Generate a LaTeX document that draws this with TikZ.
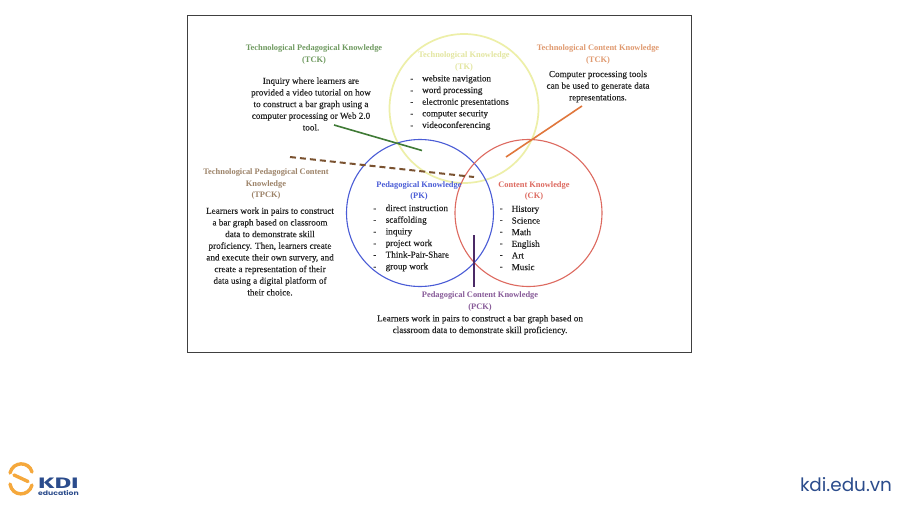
\documentclass[tikz,border=0pt]{standalone}
\usepackage{fontspec}
\setmainfont{Liberation Serif}[FakeBold=0.25]
\newfontfamily\ttlfont{Liberation Serif}[BoldFont={Liberation Serif Bold}]
\newfontfamily\logofont{Poppins}
\newfontfamily\kdifont{Fira Sans}
\newfontfamily\urlfont{Poppins}
\definecolor{tkyellow}{HTML}{EDEFA8}
\definecolor{tktext}{HTML}{E3E6A0}
\definecolor{pkblue}{HTML}{4A5CD6}
\definecolor{ckred}{HTML}{DD6A60}
\definecolor{tpkgreen}{HTML}{6F9A60}
\definecolor{tpkline}{HTML}{3F7A35}
\definecolor{tckorange}{HTML}{E09A70}
\definecolor{tckline}{HTML}{E0773C}
\definecolor{tpckbrown}{HTML}{9C8268}
\definecolor{tpckline}{HTML}{7A5230}
\definecolor{pckpurple}{HTML}{875A98}
\definecolor{pckline}{HTML}{4B2A66}
\definecolor{bodyink}{HTML}{262626}
\definecolor{kdiblue}{HTML}{2B4C8C}
\definecolor{kdiorange}{HTML}{F5A83C}
\tikzset{
  x=1pt,y=-1pt,
  ttl/.style={inner sep=0pt,align=center,font=\ttlfont\bfseries\fontsize{8.4}{11.65}\selectfont},
  bodytxt/.style={inner sep=0pt,align=center,font=\fontsize{9.15}{11.65}\selectfont,text=bodyink},
  listtxt/.style={bodytxt,align=left,anchor=west},
  venn/.style={circle,draw,inner sep=0pt,minimum size=147pt,line width=1.1pt},
  link/.style={line width=1.6pt},
}
\begin{document}
\begin{tikzpicture}
\useasboundingbox (0,0) rectangle (900,506);
\fill[white] (0,0) rectangle (900,506);
\node[draw=black!75,line width=0.8pt,inner sep=0pt,minimum width=504pt,minimum height=337pt] (frame) at (439,183.5) {};

% circles
\node[venn,draw=tkyellow,line width=1.7pt,minimum size=149pt] (tk) at (464,108.5) {};
\node[venn,draw=pkblue] (pk) at (420,213) {};
\node[venn,draw=ckred] (ck) at (528.5,213) {};

% connector ends
\coordinate (tpkA) at (334,125);
\coordinate (tpkB) at (422,150.5);
\coordinate (tckA) at (582,106);
\coordinate (tckB) at (506,157);
\coordinate (tpckA) at (290,157);
\coordinate (tpckB) at (474,177);
\coordinate (pckA) at (473.7,235);
\coordinate (pckB) at (473.7,287);
\draw[link,tpkline] (tpkA) -- (tpkB);
\draw[link,tckline] (tckA) -- (tckB);
\draw[tpckline,line width=2pt,dash pattern=on 6pt off 4pt] (tpckA) -- (tpckB);
\draw[link,pckline] (pckA) -- (pckB);

% TPK
\node[ttl,text=tpkgreen] (tpkT) at (314,54.5) {Technological Pedagogical Knowledge\\(TCK)};
\node[bodytxt] (tpkB1) at (311,104) {Inquiry where learners are\\provided a video tutorial on how\\to construct a bar graph using a\\computer processing or Web 2.0\\tool.};

% TK
\node[ttl,text=tktext] (tkT) at (464,61.5) {Technological Knowledge\\(TK)};
\node[listtxt] (tkD) at (410,103.5) {-\\-\\-\\-\\-};
\node[listtxt] (tkL) at (422,102.5) {website navigation\\word processing\\electronic presentations\\computer security\\videoconferencing};

% TCK
\node[ttl,text=tckorange] (tckT) at (598,54.5) {Technological Content Knowledge\\(TCK)};
\node[bodytxt] (tckB1) at (598,86.5) {Computer processing tools\\can be used to generate data\\representations.};

% TPCK
\node[ttl,text=tpckbrown] (tpckT) at (266,184) {Technological Pedagogical Content\\Knowledge\\(TPCK)};
\node[bodytxt] (tpckB1) at (270,251.5) {Learners work in pairs to construct\\a bar graph based on classroom\\data to demonstrate skill\\proficiency. Then, learners create\\and execute their own survery, and\\create a representation of their\\data using a digital platform of\\their choice.};

% PK
\node[ttl,text=pkblue] (pkT) at (419,191) {Pedagogical Knowledge\\(PK)};
\node[listtxt] (pkD) at (373,239) {-\\-\\-\\-\\-\\-};
\node[listtxt] (pkL) at (385.5,238) {direct instruction\\scaffolding\\inquiry\\project work\\Think-Pair-Share\\group work};

% CK
\node[ttl,text=ckred] (ckT) at (534,191) {Content Knowledge\\(CK)};
\node[listtxt] (ckD) at (499.5,239) {-\\-\\-\\-\\-\\-};
\node[listtxt] (ckL) at (511.5,238) {History\\Science\\Math\\English\\Art\\Music};

% PCK
\node[ttl,text=pckpurple] (pckT) at (480,301.5) {Pedagogical Content Knowledge\\(PCK)};
\node[bodytxt] (pckB1) at (480,325) {Learners work in pairs to construct a bar graph based on\\classroom data to demonstrate skill proficiency.};

% KDI logo
\draw[kdiorange,line width=3.4pt,line cap=round] (10,473) .. controls (13,461) and (29,461) .. (32,472);
\draw[kdiorange,line width=3.4pt,line cap=round] (10,484) .. controls (12,497) and (29,497) .. (32,485);
\draw[kdiorange,line width=3.4pt,line cap=round] (14,475) -- (28,481.5);
\node[inner sep=0pt,text=kdiblue] (kdi) at (58.5,483.2) {\resizebox{40.5pt}{10.5pt}{\kdifont\bfseries KDI}};
\node[inner sep=0pt,text=kdiblue] (edu) at (58.5,492.8) {\resizebox{40.5pt}{5pt}{\logofont\bfseries education}};

% URL
\node[inner sep=0pt,text=kdiblue] (url) at (846,485) {\resizebox{92pt}{!}{\urlfont kdi.edu.vn}};
\end{tikzpicture}
\end{document}
